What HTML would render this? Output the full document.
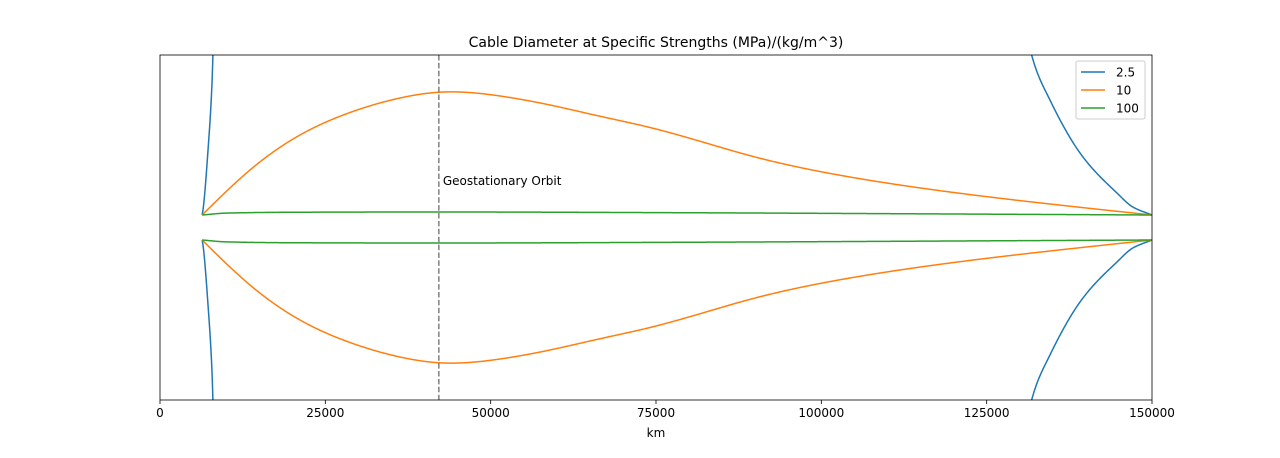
<!DOCTYPE html>
<html><head><meta charset="utf-8"><style>
html,body{margin:0;padding:0;background:#fff;overflow:hidden;width:1280px;height:458px}
svg{display:block;font-family:"DejaVu Sans","Liberation Sans",sans-serif}
</style></head><body>
<svg id="chart" width="1280" height="458">
<defs><clipPath id="pc"><rect x="160" y="55" width="992" height="345"/></clipPath></defs>
<text x="656" y="47" font-size="14" text-anchor="middle">Cable Diameter at Specific Strengths (MPa)/(kg/m^3)</text>
<g id="marks" clip-path="url(#pc)"></g>
<g id="axes"></g>
<text x="656" y="437" font-size="12" text-anchor="middle">km</text>
<g>
<rect x="1076" y="61" width="69" height="58" fill="#fff" stroke="#ccc" rx="2"/>
<line x1="1081" y1="72" x2="1105" y2="72" stroke="#1f77b4" stroke-width="1.5"/>
<text x="1116" y="76.5" font-size="12">2.5</text>
<line x1="1081" y1="90" x2="1105" y2="90" stroke="#ff7f0e" stroke-width="1.5"/>
<text x="1116" y="94.5" font-size="12">10</text>
<line x1="1081" y1="108" x2="1105" y2="108" stroke="#2ca02c" stroke-width="1.5"/>
<text x="1116" y="112.5" font-size="12">100</text>
</g>
</svg>
<script>
const xTicks=[0,25000,50000,75000,100000,125000,150000];
const geoKm=42164;
const blueKm=[6371,6500,7260,7860,8000,8500,9000,20000,42164,100000,120000,128000,131800,134570,139560,144700,147100,150000];
const blueVal=[1.0,1.4,6.2,11.5,13.8,25,40,10000,1000000,10000,200,30,13.8,10.2,5.64,2.76,1.64,1.0];
const orangeKm=[6371,13608,21169,28730,36290,42164,51411,58972,66532,74093,81653,89210,104330,119450,134570,150000];
const orangeVal=[1.0,4.6,7.4,9.2,10.36,10.82,10.52,9.8,8.9,8.0,6.9,5.75,4.04,2.84,1.88,1.0];
const greenKm=[6371,10000,20000,42164,80000,120000,150000];
const greenVal=[1.0,1.15,1.22,1.24,1.18,1.08,1.0];
const X0=160,X1=1152,Y0=55,Y1=400,YMAX=13.8;
const sx=v=>X0+(v-0)/(150000)*(X1-X0);
const sy=v=>(Y0+Y1)/2-v/YMAX*((Y1-Y0)/2);
const NS="http://www.w3.org/2000/svg";
const marks=document.getElementById('marks'),axes=document.getElementById('axes');
function mk(tag,attrs,parent){const e=document.createElementNS(NS,tag);for(const k in attrs)e.setAttribute(k,attrs[k]);parent.appendChild(e);return e;}
function toPath(out){return out.map((p,i)=>(i?'L':'M')+p[0].toFixed(2)+','+Math.max(Y0-3,Math.min(Y1+3,p[1])).toFixed(2)).join('');}
function monotonePath(xs,ys){
  const n=xs.length,dx=[],m=[],t=new Array(n);
  for(let i=0;i<n-1;i++){dx.push(xs[i+1]-xs[i]);m.push((ys[i+1]-ys[i])/dx[i]);}
  t[0]=m[0];t[n-1]=m[n-2];
  for(let i=1;i<n-1;i++){
    if(m[i-1]*m[i]<=0)t[i]=0;
    else{const w1=2*dx[i]+dx[i-1],w2=dx[i]+2*dx[i-1];t[i]=(w1+w2)/(w1/m[i-1]+w2/m[i]);}
  }
  const out=[];
  for(let i=0;i<n-1;i++){
    const steps=Math.max(2,Math.ceil(dx[i]/0.5));
    for(let s=(i?1:0);s<=steps;s++){
      const u=s/steps,h=dx[i];
      const h00=2*u*u*u-3*u*u+1,h10=u*u*u-2*u*u+u,h01=-2*u*u*u+3*u*u,h11=u*u*u-u*u;
      out.push([xs[i]+u*h,h00*ys[i]+h10*h*t[i]+h01*ys[i+1]+h11*h*t[i+1]]);
    }
  }
  return toPath(out);
}
function naturalPath(xs,ys){
  const n=xs.length,h=[],a=[],b=[],c=[],d=[],M=new Array(n).fill(0);
  for(let i=0;i<n-1;i++)h.push(xs[i+1]-xs[i]);
  // tridiagonal for interior second derivatives
  const A=[],B=[],C=[],D=[];
  for(let i=1;i<n-1;i++){A.push(h[i-1]);B.push(2*(h[i-1]+h[i]));C.push(h[i]);D.push(6*((ys[i+1]-ys[i])/h[i]-(ys[i]-ys[i-1])/h[i-1]));}
  const k=A.length;
  for(let i=1;i<k;i++){const w=A[i]/B[i-1];B[i]-=w*C[i-1];D[i]-=w*D[i-1];}
  const sol=new Array(k);
  for(let i=k-1;i>=0;i--)sol[i]=(D[i]-(i<k-1?C[i]*sol[i+1]:0))/B[i];
  for(let i=0;i<k;i++)M[i+1]=sol[i];
  const out=[];
  for(let i=0;i<n-1;i++){
    const steps=Math.max(2,Math.ceil(h[i]/0.5));
    for(let s=(i?1:0);s<=steps;s++){
      const x=xs[i]+s/steps*h[i],t1=xs[i+1]-x,t0=x-xs[i];
      const y=M[i]*t1*t1*t1/(6*h[i])+M[i+1]*t0*t0*t0/(6*h[i])+(ys[i]/h[i]-M[i]*h[i]/6)*t1+(ys[i+1]/h[i]-M[i+1]*h[i]/6)*t0;
      out.push([x,y]);
    }
  }
  return toPath(out);
}
function series(km,val,color,name,fn){
  [1,-1].forEach(s=>{
    const xs=km.map(k=>sx(k));
    const ys=val.map(v=>Math.max(-2000,Math.min(2500,sy(s*v))));
    const p=mk('path',{d:fn(xs,ys),fill:'none',stroke:color,'stroke-width':1.5},marks);
    
    
  });
}
series(blueKm,blueVal,'#1f77b4','series-2.5',monotonePath);
series(orangeKm,orangeVal,'#ff7f0e','series-10',naturalPath);
series(greenKm,greenVal,'#2ca02c','series-100',monotonePath);
const g=mk('line',{x1:sx(geoKm),x2:sx(geoKm),y1:Y0,y2:Y1,stroke:'#808080','stroke-width':1.5,'stroke-dasharray':'5.5,2.4'},marks);


const gt=mk('text',{x:sx(geoKm)+4,y:185,'font-size':12},axes);
gt.textContent='Geostationary Orbit';


const fr=mk('rect',{x:X0,y:Y0,width:X1-X0,height:Y1-Y0,fill:'none',stroke:'#000','stroke-width':0.8},axes);


xTicks.forEach(t=>{
  const l=mk('line',{x1:sx(t),x2:sx(t),y1:Y1,y2:Y1+4,stroke:'#000','stroke-width':0.8},axes);
  
  
  const tx=mk('text',{x:sx(t),y:Y1+17,'font-size':12,'text-anchor':'middle'},axes);
  tx.textContent=t;
  
  
});
</script>
</body></html>
